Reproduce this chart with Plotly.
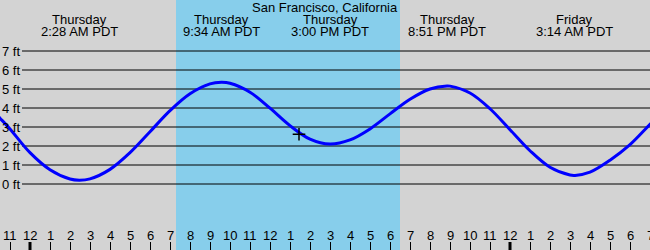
import plotly.graph_objects as go

# ---- data ----
title_text = "San Francisco, California"

# tide curve: hours since Thursday 00:00 (PDT), heights in feet
tide_hours = [-2, -1.5, -1, 0, 1, 2, 2.47, 3, 4, 5, 6, 7, 8, 9, 9.57, 10, 11, 12, 13, 14,
              15, 16, 17, 18, 19, 20, 20.85, 21, 22, 23, 24, 25, 26, 27, 27.25, 28, 29,
              30, 31, 31.5]
tide_feet = [4.0, 3.46, 2.9, 1.65, 0.75, 0.26, 0.2, 0.27, 0.77, 1.65, 2.75, 3.86, 4.75, 5.27,
             5.35, 5.30, 4.83, 3.99, 3.07, 2.36, 2.1, 2.32, 2.90, 3.69, 4.46, 5.0, 5.16,
             5.15, 4.79, 3.96, 2.86, 1.75, 0.88, 0.47, 0.45, 0.62, 1.25, 2.07, 3.14, 3.65]

# high / low labels
extreme_hours = [2.467, 9.567, 15.0, 20.85, 27.233]
extreme_days = ["Thursday", "Thursday", "Thursday", "Thursday", "Friday"]
extreme_times = ["2:28 AM PDT", "9:34 AM PDT", "3:00 PM PDT", "8:51 PM PDT", "3:14 AM PDT"]

# daylight
sunrise_hour = 7.3
sunset_hour = 18.5

# current time marker
now_hour = 13.45
now_feet = 2.62

# axes
ft_values = [0, 1, 2, 3, 4, 5, 6, 7]
ft_labels = ["0 ft", "1 ft", "2 ft", "3 ft", "4 ft", "5 ft", "6 ft", "7 ft"]
tick_hours = list(range(-1, 32))
tick_labels = ["11", "12", "1", "2", "3", "4", "5", "6", "7", "8", "9", "10", "11",
               "12", "1", "2", "3", "4", "5", "6", "7", "8", "9", "10", "11",
               "12", "1", "2", "3", "4", "5", "6", "7"]
midnight_hours = [0, 24]

# ---- figure ----
FONT = "Liberation Sans, Arial, sans-serif"
W, H = 650, 250
fig = go.Figure()

fig.add_trace(go.Scatter(x=tide_hours, y=tide_feet, mode="lines",
                         line=dict(color="#0000FF", width=3, shape="spline"),
                         hoverinfo="skip"))
fig.add_trace(go.Scatter(x=[now_hour], y=[now_feet], mode="markers",
                         marker=dict(symbol="cross-thin", size=9,
                                     line=dict(color="black", width=1.5)),
                         hoverinfo="skip"))

shapes = []
shapes.append(dict(type="rect", xref="x", yref="paper", x0=sunrise_hour, x1=sunset_hour,
                   y0=0, y1=1, fillcolor="#87CEEB", line=dict(width=0), layer="below"))
for v in ft_values:
    shapes.append(dict(type="line", xref="paper", yref="y", x0=22 / W, x1=1, y0=v, y1=v,
                       line=dict(color="black", width=1), layer="below"))
for m in midnight_hours:
    shapes.append(dict(type="line", xref="x", yref="paper", x0=m, x1=m, y0=0, y1=8 / H,
                       line=dict(color="black", width=3)))

ann = []
ann.append(dict(text=title_text, x=0.5, xref="paper", y=(H - 7.5) / H, yref="paper",
                xanchor="center", yanchor="middle", showarrow=False,
                font=dict(family=FONT, size=13, color="black")))
for hx, d, t in zip(extreme_hours, extreme_days, extreme_times):
    ann.append(dict(text=d, x=hx, xref="x", y=(H - 20) / H, yref="paper",
                    xanchor="center", yanchor="middle", showarrow=False,
                    font=dict(family=FONT, size=13, color="black")))
    ann.append(dict(text=t, x=hx, xref="x", y=(H - 31.5) / H, yref="paper",
                    xanchor="center", yanchor="middle", showarrow=False,
                    font=dict(family=FONT, size=13, color="black")))
for v, lab in zip(ft_values, ft_labels):
    ann.append(dict(text=lab, x=0, xref="paper", y=v, yref="y", xanchor="left",
                    yanchor="middle", showarrow=False, xshift=0,
                    font=dict(family=FONT, size=13, color="black")))
for hx, lab in zip(tick_hours, tick_labels):
    ann.append(dict(text=lab, x=hx, xref="x", y=(H - 235.5) / H, yref="paper",
                    xanchor="center", yanchor="middle", showarrow=False,
                    font=dict(family=FONT, size=13, color="black")))

y_top = 184 / 19
y_bot = (184 - H) / 19
fig.update_layout(
    width=W, height=H, margin=dict(l=0, r=0, t=0, b=0),
    paper_bgcolor="#D3D3D3", plot_bgcolor="rgba(0,0,0,0)",
    showlegend=False, shapes=shapes, annotations=ann,
    xaxis=dict(range=[-1.5, 31], showgrid=False, zeroline=False, showline=False,
               tickmode="array", tickvals=tick_hours, ticks="inside", ticklen=8,
               tickwidth=1, tickcolor="black", showticklabels=False, fixedrange=True),
    yaxis=dict(range=[y_bot, y_top], showgrid=False, zeroline=False, showline=False,
               showticklabels=False, fixedrange=True),
)
fig.write_html("out.html", config={"displayModeBar": False})
